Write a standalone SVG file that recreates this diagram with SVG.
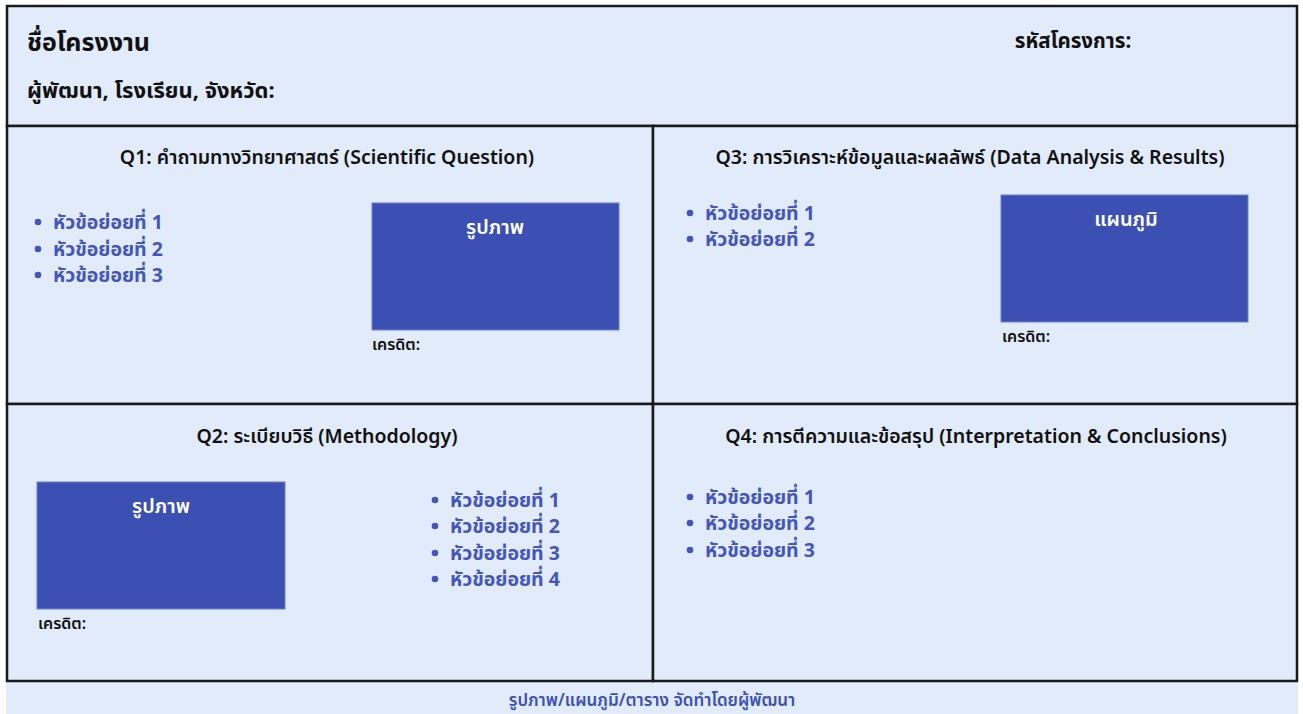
<svg xmlns="http://www.w3.org/2000/svg" width="1303" height="714" viewBox="0 0 1303 714">
<style>
text{font-family:"Noto Sans","Noto Sans Thai","Noto Sans CJK SC",sans-serif;}
.panel{fill:#e1ebf9;stroke:#1a1a1a;stroke-width:2.5;}
.h1{font-size:25px;font-weight:700;fill:#111;}
.h2{font-size:22px;font-weight:700;fill:#111;}
.qt{font-size:19.5px;font-weight:600;fill:#111;text-anchor:middle;}
.bl{font-size:19.5px;font-weight:700;fill:#4456bb;}
.dot{fill:#4456bb;}
.img{fill:#3c50b4;stroke:#6f80d0;stroke-width:1;}
.il{font-size:20px;font-weight:600;fill:#ffffff;text-anchor:middle;}
.cr{font-size:16px;font-weight:600;fill:#111;}
.ft{font-size:17px;font-weight:600;fill:#3c50b4;text-anchor:middle;}
</style>
<rect x="0" y="0" width="1303" height="714" fill="#ffffff"/>
<g id="footer">
<rect x="6" y="682" width="1292" height="32" fill="#e1ebf9"/>
<text class="ft" x="652" y="706">รูปภาพ/แผนภูมิ/ตาราง จัดทำโดยผู้พัฒนา</text>
</g>
<g id="header">
<rect class="panel" x="7" y="6" width="1290" height="120"/>
<text class="h1" x="27" y="51">ชื่อโครงงาน</text>
<text class="h2" x="27" y="98">ผู้พัฒนา, โรงเรียน, จังหวัด:</text>
<text class="h2" x="1073" y="48" text-anchor="middle" style="font-size:20.5px">รหัสโครงการ:</text>
</g>
<g id="q1">
<rect class="panel" x="7" y="126" width="646" height="278"/>
<text class="qt" x="327" y="164">Q1: คำถามทางวิทยาศาสตร์ (Scientific Question)</text>
<circle class="dot" cx="38" cy="222" r="3.3"/><text class="bl" x="53" y="229">หัวข้อย่อยที่ 1</text>
<circle class="dot" cx="38" cy="249" r="3.3"/><text class="bl" x="53" y="256">หัวข้อย่อยที่ 2</text>
<circle class="dot" cx="38" cy="275" r="3.3"/><text class="bl" x="53" y="282">หัวข้อย่อยที่ 3</text>
<rect class="img" x="372" y="203" width="247" height="127"/>
<text class="il" x="495" y="234">รูปภาพ</text>
<text class="cr" x="372" y="350">เครดิต:</text>
</g>
<g id="q3">
<rect class="panel" x="653" y="126" width="644" height="278"/>
<text class="qt" x="970" y="164">Q3: การวิเคราะห์ข้อมูลและผลลัพธ์ (Data Analysis &amp; Results)</text>
<circle class="dot" cx="690" cy="213" r="3.3"/><text class="bl" x="705" y="220">หัวข้อย่อยที่ 1</text>
<circle class="dot" cx="690" cy="239" r="3.3"/><text class="bl" x="705" y="246">หัวข้อย่อยที่ 2</text>
<rect class="img" x="1001" y="195" width="247" height="127"/>
<text class="il" x="1126" y="226">แผนภูมิ</text>
<text class="cr" x="1002" y="342">เครดิต:</text>
</g>
<g id="q2">
<rect class="panel" x="7" y="404" width="646" height="277"/>
<text class="qt" x="327" y="443">Q2: ระเบียบวิธี (Methodology)</text>
<rect class="img" x="37" y="482" width="248" height="127"/>
<text class="il" x="161" y="513">รูปภาพ</text>
<text class="cr" x="38" y="629">เครดิต:</text>
<circle class="dot" cx="435" cy="500" r="3.3"/><text class="bl" x="450" y="507">หัวข้อย่อยที่ 1</text>
<circle class="dot" cx="435" cy="526" r="3.3"/><text class="bl" x="450" y="533">หัวข้อย่อยที่ 2</text>
<circle class="dot" cx="435" cy="553" r="3.3"/><text class="bl" x="450" y="560">หัวข้อย่อยที่ 3</text>
<circle class="dot" cx="435" cy="579" r="3.3"/><text class="bl" x="450" y="586">หัวข้อย่อยที่ 4</text>
</g>
<g id="q4">
<rect class="panel" x="653" y="404" width="644" height="277"/>
<text class="qt" x="976" y="443">Q4: การตีความและข้อสรุป (Interpretation &amp; Conclusions)</text>
<circle class="dot" cx="690" cy="497" r="3.3"/><text class="bl" x="705" y="504">หัวข้อย่อยที่ 1</text>
<circle class="dot" cx="690" cy="523" r="3.3"/><text class="bl" x="705" y="530">หัวข้อย่อยที่ 2</text>
<circle class="dot" cx="690" cy="550" r="3.3"/><text class="bl" x="705" y="557">หัวข้อย่อยที่ 3</text>
</g>
<g id="connectors"></g>
</svg>
